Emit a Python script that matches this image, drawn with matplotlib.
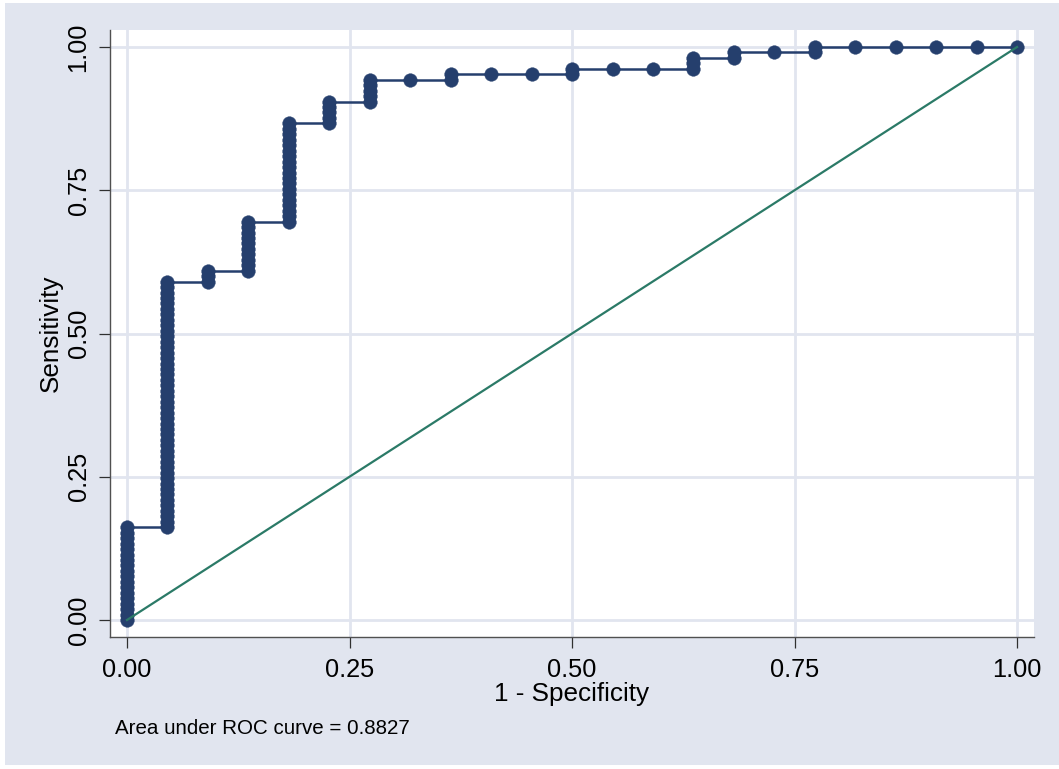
import matplotlib
matplotlib.use("Agg")
import matplotlib.pyplot as plt
from matplotlib.patches import Rectangle

# ---- data ----
n_neg = 22
n_pos = 105
# cumulative number of positives classified correctly at each number of false positives 0..22
cum_true_pos = [17, 62, 64, 73, 91, 95, 99, 99, 100, 100, 100, 101, 101, 101,
                103, 104, 104, 105, 105, 105, 105, 105, 105]
auc_text = "Area under ROC curve = 0.8827"
x_ticks = [0.0, 0.25, 0.5, 0.75, 1.0]
y_ticks = [0.0, 0.25, 0.5, 0.75, 1.0]
tick_labels = ["0.00", "0.25", "0.50", "0.75", "1.00"]
x_label = "1 - Specificity"
y_label = "Sensitivity"

# build ROC points (one per cut-point)
fpr, tpr = [0.0], [0.0]
prev = 0
for k, c in enumerate(cum_true_pos):
    if k > 0:
        fpr.append(k / n_neg); tpr.append(prev / n_pos)
    for j in range(prev + 1, c + 1):
        fpr.append(k / n_neg); tpr.append(j / n_pos)
    prev = c

BG = "#e1e5ef"
NAVY = "#253f6d"
GREEN = "#2b7a67"
plt.rcParams['font.family'] = ['Liberation Sans', 'DejaVu Sans']

fig = plt.figure(figsize=(10.59, 7.69), dpi=100)
fig.patch.set_facecolor("white")
bg_rect = Rectangle((5 / 1059, 4 / 769), 1 - 5 / 1059, 1 - 7 / 769,
                    transform=fig.transFigure, facecolor=BG,
                    edgecolor="none", zorder=-10)
fig.add_artist(bg_rect)

ax = fig.add_axes([110 / 1059, 1 - 637 / 769, 924 / 1059, 607 / 769])
ax.set_zorder(1)
ax.set_facecolor("white")
ax.set_xlim(-0.0191, 1.019)
ax.set_ylim(-0.0297, 1.0297)

ax.plot(fpr, tpr, color=NAVY, lw=1.8, marker="o", ms=9.8,
        mfc=NAVY, mec=NAVY, mew=0.3, zorder=3, clip_on=False)
ax.plot([0, 1], [0, 1], color=GREEN, lw=1.6, zorder=4)

ax.set_xticks(x_ticks)
ax.set_xticklabels(tick_labels)
ax.set_yticks(y_ticks)
ax.set_yticklabels(tick_labels, rotation=90, va="center")
ax.grid(True, color=BG, lw=2.0, zorder=0)
ax.set_axisbelow(True)
for s in ["top", "right"]:
    ax.spines[s].set_visible(False)
for s in ["left", "bottom"]:
    ax.spines[s].set_color("#505050")
    ax.spines[s].set_linewidth(1.0)
ax.tick_params(axis="both", direction="out", length=8, width=0.9,
               color="#303030", labelsize=18.3, labelcolor="black")
ax.tick_params(axis="x", pad=7)
ax.tick_params(axis="y", pad=6)

ax.set_xlabel(x_label, fontsize=18.8, labelpad=0)
ax.set_ylabel(y_label, fontsize=18.8, labelpad=3)

fig.text(115 / 1059, 1 - 729 / 769, auc_text, fontsize=14.8, va="center",
         ha="left")

fig.savefig("out.png", dpi=100, facecolor=fig.get_facecolor())
